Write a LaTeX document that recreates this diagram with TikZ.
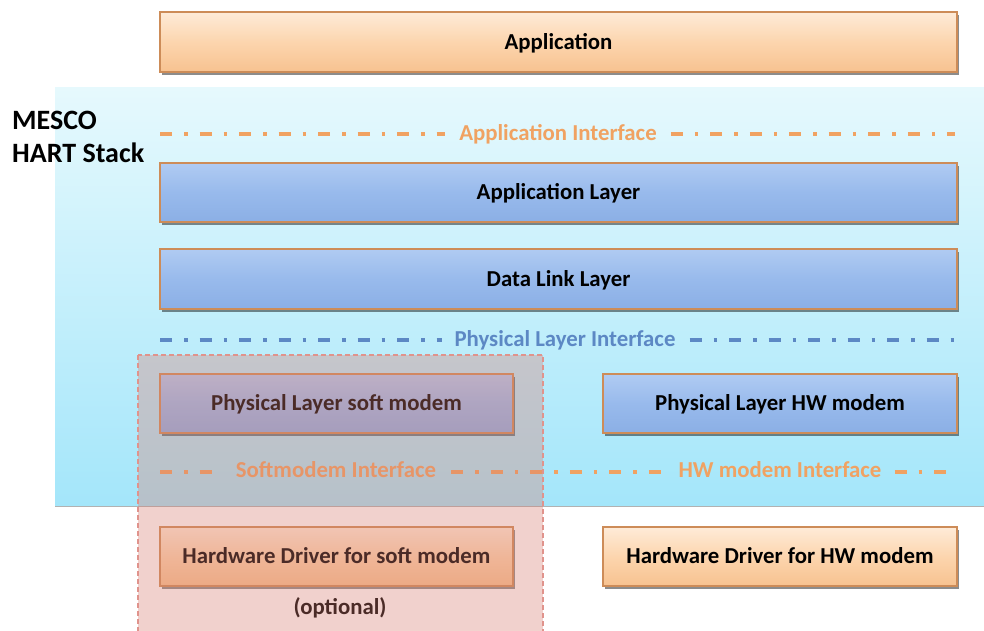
\documentclass[tikz,border=0pt]{standalone}
\usepackage{fontspec}
\setmainfont{Carlito}
\usetikzlibrary{shadows}
\definecolor{appTop}{HTML}{FEEBD8}
\definecolor{appMid}{HTML}{FCD5AE}
\definecolor{appBot}{HTML}{F7C290}
\definecolor{boxBorder}{HTML}{CD8C58}
\definecolor{blueTop}{HTML}{B0CBF2}
\definecolor{blueMid}{HTML}{98BAEC}
\definecolor{blueBot}{HTML}{8BAFE5}
\definecolor{stackTop}{HTML}{E6F9FD}
\definecolor{stackBot}{HTML}{A4E6FA}
\definecolor{ifOrange}{HTML}{F0A262}
\definecolor{ifBlue}{HTML}{5C88C4}
\definecolor{overlayC}{HTML}{D97E72}
\definecolor{overlayBorder}{HTML}{E0938C}
\begin{document}
\begin{tikzpicture}[x=1pt,y=-1pt,
  lbl/.style={font=\bfseries\fontsize{22.8}{26}\selectfont, text height=16pt, text depth=2pt},
  layerbox/.style={draw=boxBorder, line width=1.3pt, inner sep=0pt, minimum height=59pt, lbl,
    drop shadow={shadow xshift=2pt,shadow yshift=-2.5pt,fill=black,opacity=0.45}},
  orangebox/.style={layerbox, top color=appTop, bottom color=appBot, middle color=appMid},
  bluebox/.style={layerbox, top color=blueTop, bottom color=blueBot, middle color=blueMid},
  iface/.style={line width=4pt, dash pattern=on 12pt off 12pt on 3.5pt off 12pt},
  iflbl/.style={lbl, inner sep=0pt},
  stacklbl/.style={font=\bfseries\fontsize{28}{32}\selectfont, inner sep=0pt, anchor=west}
]
\useasboundingbox (0,0) rectangle (984,630);
\fill[white] (0,0) rectangle (984,630);

% stack background
\node[draw=none, minimum width=929pt, minimum height=418pt, inner sep=0pt,
  top color=stackTop, bottom color=stackBot,
  drop shadow={shadow xshift=0pt,shadow yshift=-2pt,fill=black,opacity=0.3}] (stack) at (519.5,296) {};

\node[stacklbl] (mesco) at (12,120) {MESCO};
\node[stacklbl] (hart) at (12,153) {HART Stack};

% boxes
\node[orangebox, minimum width=797pt, minimum height=60pt] (app) at (558.5,42) {Application};
\node[bluebox, minimum width=797pt] (al) at (558.5,192.5) {Application Layer};
\node[bluebox, minimum width=797pt, minimum height=60pt] (dll) at (558.5,279) {Data Link Layer};
\node[bluebox, minimum width=353pt] (psm) at (336.5,403.5) {Physical Layer soft modem};
\node[bluebox, minimum width=354pt] (phw) at (780,403.5) {Physical Layer HW modem};
\node[orangebox, minimum width=353pt] (dsm) at (336.5,556.5) {Hardware Driver for soft modem};
\node[orangebox, minimum width=354pt] (dhw) at (780,556.5) {Hardware Driver for HW modem};
\node[lbl, inner sep=0pt] (opt) at (340,607) {(optional)};

% interfaces
\node[iflbl, text=ifOrange] (aif) at (558,133) {Application Interface};
\coordinate (aifL) at (160,134);
\coordinate (aifR) at (955,134);
\draw[iface, ifOrange] (aifL) -- ([xshift=-14pt]aif.west |- aifL);
\draw[iface, ifOrange] ([xshift=14pt]aif.east |- aifR) -- (aifR);

\node[iflbl, text=ifBlue] (pif) at (565,339) {Physical Layer Interface};
\coordinate (pifL) at (160,340);
\coordinate (pifR) at (955,340);
\draw[iface, ifBlue] (pifL) -- ([xshift=-12pt]pif.west |- pifL);
\draw[iface, ifBlue] ([xshift=14pt]pif.east |- pifR) -- (pifR);

\node[iflbl, text=ifOrange] (sif) at (336,470) {Softmodem Interface};
\node[iflbl, text=ifOrange] (hif) at (780,470) {HW modem Interface};
\coordinate (sifL) at (160,472);
\coordinate (hifR) at (950,472);
\draw[iface, ifOrange] (sifL) -- ([xshift=-14pt]sif.west |- sifL);
\draw[iface, ifOrange] ([xshift=15pt]sif.east |- sifL) -- ([xshift=-12pt]hif.west |- sifL);
\draw[iface, ifOrange] ([xshift=13pt]hif.east |- hifR) -- (hifR);

% optional soft modem overlay
\draw[fill=overlayC, fill opacity=0.35, draw=overlayBorder, line width=1.5pt,
  dash pattern=on 5pt off 3pt] (138,355) rectangle (543,640);
\end{tikzpicture}
\end{document}
